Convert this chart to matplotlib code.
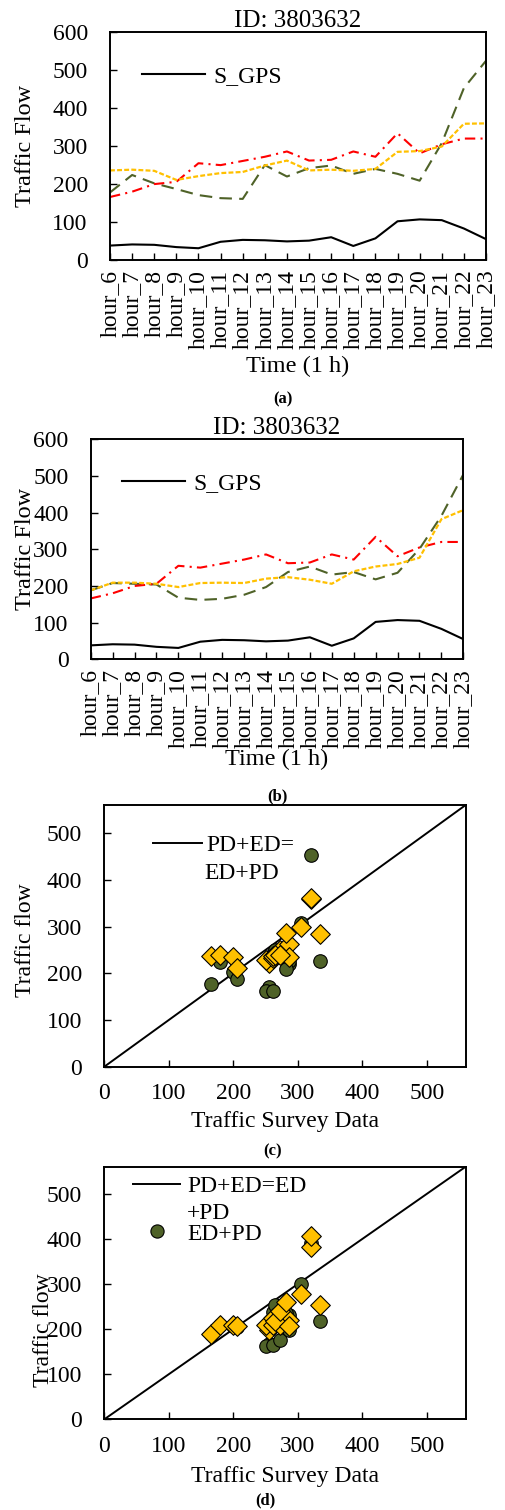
import numpy as np
import matplotlib
matplotlib.use("Agg")
import matplotlib.pyplot as plt
from matplotlib.lines import Line2D

plt.rcParams['font.family'] = ['Liberation Serif', 'DejaVu Serif']
plt.rcParams['font.size'] = 17

# hours shown on the time axis
hours = ['hour_%d' % h for h in range(6, 24)]

# traffic survey data (red dash-dot, same in both line panels)
survey = [166, 180, 200, 206, 255, 250, 261, 272, 286, 262, 264, 286, 272, 334, 281, 305, 320, 320]
# S_GPS (black)
s_gps = [38, 41, 40, 34, 31, 48, 53, 52, 49, 51, 60, 37, 57, 102, 107, 105, 83, 55]

# panel (a)
ed_pd_a = [178, 224, 202, 187, 171, 163, 161, 250, 220, 242, 249, 227, 240, 227, 209, 308, 453, 525]
pd_ed_a = [236, 238, 235, 211, 221, 229, 232, 249, 262, 236, 238, 235, 240, 285, 287, 299, 359, 360]

# panel (b)
ed_pd_b = [188, 208, 206, 204, 168, 162, 165, 176, 197, 238, 253, 231, 238, 218, 236, 301, 391, 504]
pd_ed_b = [188, 209, 209, 206, 197, 208, 209, 208, 220, 224, 217, 206, 240, 253, 260, 277, 382, 407]

RED = '#FF0000'
GREEN = '#4F6228'
YELLOW = '#FFC000'

fig = plt.figure(figsize=(5.05, 15.1), dpi=100)
W, H = 505.0, 1510.0


def px_axes(l, t, r, b):
    return fig.add_axes([l / W, 1 - b / H, (r - l) / W, (b - t) / H])


def style(ax):
    for s in ax.spines.values():
        s.set_linewidth(1.4)
    ax.tick_params(direction='in', length=5, width=1.0, top=False, right=False)
    ax.tick_params(axis='y', pad=16)


def line_panel(ax, ed_pd, pd_ed, leg_xy, ylab_x, xlab_y):
    x = np.arange(len(hours))
    ax.plot(x, s_gps, color='black', lw=1.5, label='S_GPS')
    ax.plot(x, ed_pd, color=GREEN, lw=1.5, dashes=(6, 3.5))
    ax.plot(x, survey, color=RED, lw=1.5, dashes=(5, 2.5, 1, 2.5))
    ax.plot(x, pd_ed, color=YELLOW, lw=1.6, dashes=(2.2, 1.0))
    ax.set_xlim(0, len(hours) - 1)
    ax.set_ylim(0, 600)
    ax.set_yticks(range(0, 601, 100))
    ax.set_xticks(x)
    ax.set_xticklabels(hours, rotation=90)
    style(ax)
    ax.tick_params(axis='x', pad=7)
    ax.set_title('ID: 3803632', pad=3, fontsize=18)
    ax.set_ylabel('Traffic Flow', va='center', ha='center', fontsize=17.5)
    ax.yaxis.set_label_coords(ylab_x, 0.5)
    ax.set_xlabel('Time (1 h)', va='center', ha='center', fontsize=17.5)
    ax.xaxis.set_label_coords(0.5, xlab_y)
    h = [Line2D([], [], color='black', lw=1.5)]
    ax.legend(h, ['S_GPS'], loc='upper left', bbox_to_anchor=leg_xy, frameon=False,
              borderpad=0, borderaxespad=0, handlelength=2.67, handletextpad=0.34)


def scatter_panel(ax, ed_pd, pd_ed, ylab_xy, xlab_y):
    ax.axline((0, 0), slope=1, color='black', lw=1.4)
    # ED+PD stops at hour_22, PD+ED uses every hour
    ax.scatter(survey[:-1], ed_pd[:-1], s=95, marker='o', facecolor=GREEN,
               edgecolor='black', linewidth=0.8, zorder=3)
    ax.scatter(survey, pd_ed, s=100, marker='D', facecolor=YELLOW,
               edgecolor='black', linewidth=0.8, zorder=4)
    ax.set_xlim(0, 560)
    ax.set_ylim(0, 560)
    ax.set_xticks(range(0, 501, 100))
    ax.set_yticks(range(0, 501, 100))
    style(ax)
    ax.tick_params(axis='x', pad=12)
    ax.set_ylabel('Traffic flow', va='center', ha='center')
    ax.yaxis.set_label_coords(*ylab_xy)
    ax.set_xlabel('Traffic Survey Data', va='center', ha='center')
    ax.xaxis.set_label_coords(0.5, xlab_y)


# (a)
ax_a = px_axes(110, 32.3, 486, 260)
line_panel(ax_a, ed_pd_a, pd_ed_a, (0.085, 0.853), -0.226, -0.469)

# (b)
ax_b = px_axes(90.7, 439.3, 463.3, 659.3)
line_panel(ax_b, ed_pd_b, pd_ed_b, (0.084, 0.847), -0.174, -0.455)

# (c)
ax_c = px_axes(104.3, 805, 465.7, 1066.7)
scatter_panel(ax_c, ed_pd_a, pd_ed_a, (-0.2167, 0.484), -0.2075)
ax_c.legend([Line2D([], [], color='black', lw=1.4)], ['PD+ED='], loc='upper left',
            bbox_to_anchor=(0.135, 0.886), frameon=False, borderpad=0, borderaxespad=0,
            handlelength=2.07, handletextpad=0.2)
ax_c.text(0.277, 0.740, 'ED+PD', transform=ax_c.transAxes, va='center', ha='left')

# (d)
ax_d = px_axes(104.3, 1166.7, 465.7, 1419.3)
scatter_panel(ax_d, ed_pd_b, pd_ed_b, (-0.167, 0.3535), -0.228)
hd = [Line2D([], [], color='black', lw=1.4),
      Line2D([], [], ls='none', marker='o', markersize=9.5, markerfacecolor=GREEN,
             markeredgecolor='black', markeredgewidth=0.8)]
ax_d.legend(hd, ['PD+ED=ED', 'ED+PD'], loc='upper left', bbox_to_anchor=(0.08, 0.965),
            frameon=False, borderpad=0, borderaxespad=0, handlelength=2.0,
            handletextpad=0.3, labelspacing=1.1)
ax_d.text(0.228, 0.815, '+PD', transform=ax_d.transAxes, va='center', ha='left')

# captions
for lab, xc, yc in [('(a)', 283, 399), ('(b)', 277, 796), ('(c)', 273, 1151), ('(d)', 265, 1500)]:
    fig.text(xc / W, 1 - yc / H, lab, ha='center', va='center', fontsize=12, fontweight='bold')

fig.savefig('out.png', dpi=100)
